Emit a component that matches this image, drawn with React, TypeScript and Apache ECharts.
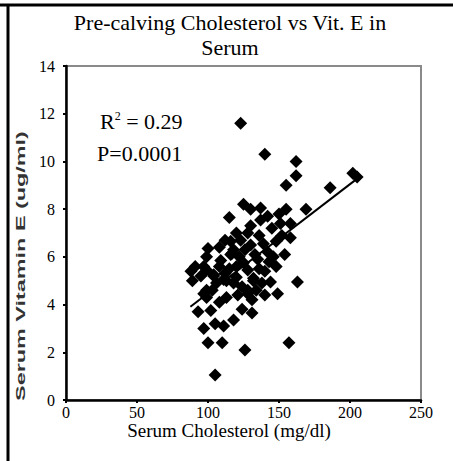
import React, { useEffect, useRef } from "react";
import * as echarts from "echarts";

const titleLines = ["Pre-calving Cholesterol vs Vit. E in", "Serum"];
const xAxisTitle = "Serum Cholesterol (mg/dl)";
const yAxisTitle = "Serum Vitamin E (ug/ml)";
const statR2 = "0.29";
const statP = "P=0.0001";

const cholesterol: number[] = [
  123, 140, 162, 162, 155, 186, 202, 205, 169, 125, 130, 137, 155, 150, 115, 130, 137, 142, 151, 158,
  158, 136, 123, 116, 100, 130, 139, 148, 142, 135, 148, 140, 163, 144, 132, 149, 140, 128, 118, 125,
  117, 108, 97, 104, 99, 111,
  105, 126, 100, 110, 97, 105, 111, 118, 93, 102, 97, 89, 88, 91, 99, 104, 106, 99, 113, 120, 128, 124,
  128, 131, 131, 99, 109, 116, 132, 157,
  112, 115, 120, 118, 122, 126, 133, 136, 143, 146, 138, 134, 121, 124, 113, 108, 103, 95, 120, 128,
  145, 152, 154, 108, 112,
];
const vitaminE: number[] = [
  11.6, 10.3, 10.0, 9.4, 9.0, 8.9, 9.5, 9.35, 8.0, 8.2, 8.0, 8.05, 8.0, 7.8, 7.65, 7.3, 7.55, 7.7, 7.4, 7.4,
  6.8, 6.9, 6.7, 6.65, 6.35, 6.5, 6.55, 6.65, 6.2, 5.9, 5.6, 5.4, 4.95, 4.95, 5.1, 4.45, 4.4, 4.6, 4.9, 5.75,
  6.15, 5.6, 5.6, 5.2, 4.6, 5.05,
  1.05, 2.1, 2.4, 2.4, 3.0, 3.2, 3.1, 3.35, 3.7, 3.75, 4.45, 5.0, 5.4, 5.6, 5.45, 5.25, 4.9, 4.3, 5.0, 5.15,
  5.45, 4.75, 4.45, 4.2, 3.65, 6.0, 5.85, 6.1, 5.0, 2.4,
  5.3, 5.5, 5.6, 6.3, 6.0, 6.3, 6.1, 5.5, 5.8, 6.0, 4.9, 4.6, 4.4, 3.8, 4.3, 4.1, 4.6, 5.2, 7.0, 7.0,
  7.2, 6.9, 6.1, 6.4, 6.7,
];
const trendX: number[] = [87.6, 205.3];
const trendY: number[] = [3.91, 9.29];

const xTicks = { min: 0, max: 250, interval: 50 };
const yTicks = { min: 0, max: 14, interval: 2 };

const serif = "Liberation Serif";

export default function App() {
  const ref = useRef<HTMLDivElement>(null);
  useEffect(() => {
    if (!ref.current) return;
    const chart = echarts.init(ref.current, null, { renderer: "svg" });
    const points = cholesterol.map((x, i) => [x, vitaminE[i]]);
    const trend = trendX.map((x, i) => [x, trendY[i]]);
    const tickRich = { t: { fontFamily: serif, fontSize: 16, color: "#000", lineHeight: 14 } };
    chart.setOption({
      animation: false,
      backgroundColor: "#fff",
      textStyle: { fontFamily: serif },
      grid: {
        left: 66,
        top: 66,
        right: 32,
        bottom: 61,
        show: true,
        borderColor: "#8a8a8a",
        borderWidth: 2,
      },
      xAxis: {
        type: "value",
        min: xTicks.min,
        max: xTicks.max,
        interval: xTicks.interval,
        splitLine: { show: false },
        axisLine: { show: true, onZero: false, lineStyle: { color: "#000", width: 2.5 } },
        axisTick: { show: true, length: 3, lineStyle: { color: "#000", width: 2 } },
        axisLabel: {
          color: "#000",
          fontFamily: serif,
          fontSize: 16,
          margin: 5,
          formatter: "{t|{value}}",
          rich: tickRich,
        },
      },
      yAxis: {
        type: "value",
        min: yTicks.min,
        max: yTicks.max,
        interval: yTicks.interval,
        splitLine: { show: false },
        axisLine: { show: true, onZero: false, lineStyle: { color: "#000", width: 2.5 } },
        axisTick: { show: true, length: 3, lineStyle: { color: "#000", width: 2 } },
        axisLabel: {
          color: "#000",
          fontFamily: serif,
          fontSize: 16,
          margin: 11,
          formatter: "{t|{value}}",
          rich: tickRich,
        },
      },
      series: [
        {
          type: "scatter",
          data: points,
          symbol: "diamond",
          symbolSize: 13,
          itemStyle: { color: "#000", opacity: 1 },
        },
        {
          type: "line",
          data: trend,
          symbol: "none",
          lineStyle: { color: "#000", width: 2 },
          z: 3,
        },
      ],
      graphic: [
        { type: "line", shape: { x1: 0, y1: 5, x2: 460, y2: 5 }, style: { stroke: "#000", lineWidth: 3 } },
        { type: "line", shape: { x1: 8, y1: 4, x2: 8, y2: 470 }, style: { stroke: "#000", lineWidth: 3 } },
        {
          type: "text",
          x: 230,
          y: 10,
          style: {
            text: titleLines.join("\n"),
            font: `22px "${serif}"`,
            fill: "#000",
            textAlign: "center",
            lineHeight: 25,
          },
        },
        {
          type: "text",
          x: 229,
          y: 421,
          style: { text: xAxisTitle, font: `19px "${serif}"`, fill: "#000", textAlign: "center", lineHeight: 18 },
        },
        {
          type: "text",
          x: 21,
          y: 266,
          rotation: Math.PI / 2,
          scaleX: 1.95,
          style: {
            text: yAxisTitle,
            font: `bold 12px "Liberation Sans"`,
            fill: "#333",
            textAlign: "center",
            textVerticalAlign: "middle",
          },
        },
        {
          type: "text",
          x: 100,
          y: 110,
          style: {
            text: "{a|R}{s|2}{a| = " + statR2 + "}",
            rich: {
              a: { font: `22px "${serif}"`, fill: "#000" },
              s: { font: `12px "${serif}"`, fill: "#000", verticalAlign: "top", padding: [0, 0, 10, 0] },
            },
          },
        },
        {
          type: "text",
          x: 97,
          y: 142,
          style: { text: statP, font: `22px "${serif}"`, fill: "#000" },
        },
      ],
    });
    return () => chart.dispose();
  }, []);
  return <div ref={ref} style={{ position: "fixed", left: 0, top: 0, width: 453, height: 461 }} />;
}
